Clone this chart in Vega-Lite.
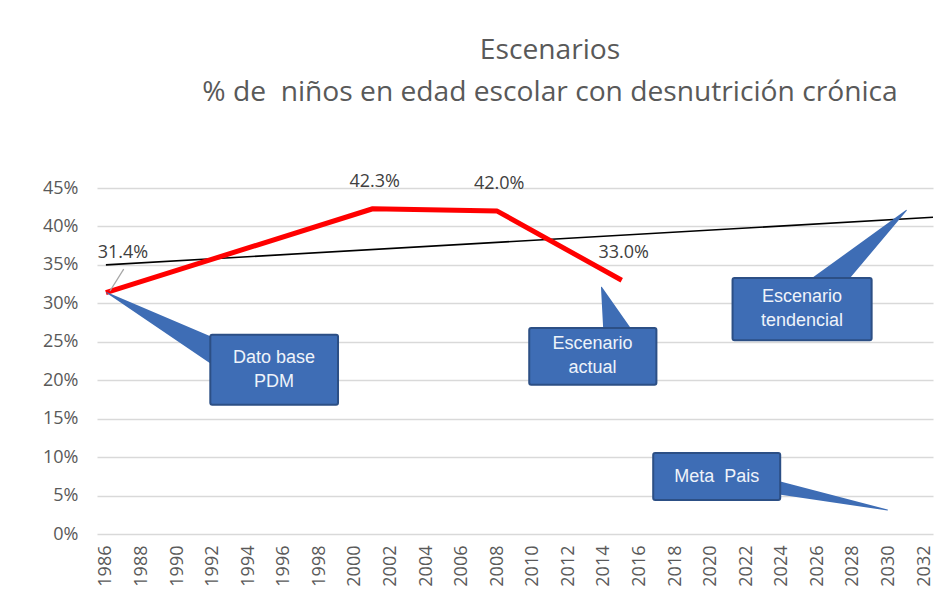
{
  "$schema": "https://vega.github.io/schema/vega-lite/v6.json",
  "width": 836,
  "height": 346,
  "autosize": {"type": "none"},
  "padding": {"left": 97, "top": 188, "right": 6, "bottom": 62},
  "background": "white",
  "config": {
    "view": {"stroke": null},
    "font": "Open Sans"
  },
  "title": {
    "text": ["Escenarios", "% de\u00a0 niños en edad escolar con desnutrición crónica"],
    "font": "Open Sans",
    "fontSize": 28.2,
    "fontWeight": "normal",
    "color": "#595959",
    "lineHeight": 42,
    "anchor": "middle",
    "dx": 35,
    "offset": 66
  },
  "datasets": {
    "scenarios": [
      {"year": 1986, "pct": 0.314},
      {"year": 2001, "pct": 0.423},
      {"year": 2008, "pct": 0.420},
      {"year": 2015, "pct": 0.330}
    ],
    "trend": [
      {"year": 1986, "pct": 0.350},
      {"year": 2032.5, "pct": 0.412}
    ],
    "callouts": [
      {"label": "Dato base\nPDM", "x0": 1991.87, "x1": 1999.05, "y0": 0.168, "y1": 0.259, "cx": 1995.45, "cy": 0.213},
      {"label": "Escenario\nactual", "x0": 2009.8, "x1": 2016.95, "y0": 0.194, "y1": 0.268, "cx": 2013.36, "cy": 0.231},
      {"label": "Escenario\ntendencial", "x0": 2021.23, "x1": 2029.05, "y0": 0.252, "y1": 0.333, "cx": 2025.14, "cy": 0.2926},
      {"label": "Meta\u00a0 Pais", "x0": 2016.77, "x1": 2023.91, "y0": 0.0442, "y1": 0.1053, "cx": 2020.34, "cy": 0.0741}
    ],
    "pointers": [
      {"callout": "Dato base PDM", "part": "tip", "year": 1986.05, "pct": 0.314},
      {"callout": "Dato base PDM", "part": "wide", "year": 1993.2, "pct": 0.2237},
      {"callout": "Escenario actual", "part": "tip", "year": 2013.86, "pct": 0.321},
      {"callout": "Escenario actual", "part": "wider", "year": 2014.98, "pct": 0.246},
      {"callout": "Escenario tendencial", "part": "tip", "year": 2031.0, "pct": 0.421},
      {"callout": "Escenario tendencial", "part": "wide", "year": 2026.31, "pct": 0.32},
      {"callout": "Meta Pais", "part": "tip", "year": 2029.94, "pct": 0.0312},
      {"callout": "Meta Pais", "part": "narrow", "year": 2023.36, "pct": 0.0624}
    ]
  },
  "layer": [
    {
      "data": {"name": "trend"},
      "mark": {"type": "line", "color": "#000000", "strokeWidth": 1.6},
      "encoding": {
        "x": {
          "field": "year", "type": "quantitative",
          "scale": {"domain": [1985.5, 2032.5], "nice": false, "zero": false},
          "axis": {
            "title": null,
            "values": [1986, 1988, 1990, 1992, 1994, 1996, 1998, 2000, 2002, 2004, 2006, 2008, 2010, 2012, 2014, 2016, 2018, 2020, 2022, 2024, 2026, 2028, 2030, 2032],
            "tickCount": 100,
            "format": "d",
            "labelAngle": -90,
            "labelFont": "Open Sans",
            "labelFontSize": 18,
            "labelColor": "#595959",
            "labelPadding": 11,
            "labelOverlap": false,
            "labelFlush": false,
            "domain": false,
            "ticks": false,
            "grid": false
          }
        },
        "y": {
          "field": "pct", "type": "quantitative",
          "scale": {"domain": [0, 0.45], "nice": false},
          "axis": {
            "title": null,
            "values": [0, 0.05, 0.1, 0.15, 0.2, 0.25, 0.3, 0.35, 0.4, 0.45],
            "tickCount": 100,
            "format": ".0%",
            "labelFont": "Open Sans",
            "labelFontSize": 18,
            "labelColor": "#595959",
            "labelPadding": 19,
            "labelOverlap": false,
            "domain": false,
            "ticks": false,
            "grid": true,
            "gridColor": "#D9D9D9",
            "gridWidth": 1.3
          }
        }
      }
    },
    {
      "data": {"name": "scenarios"},
      "mark": {"type": "line", "color": "#FF0000", "strokeWidth": 5, "strokeJoin": "round"},
      "encoding": {
        "x": {"field": "year", "type": "quantitative"},
        "y": {"field": "pct", "type": "quantitative"}
      }
    },
    {
      "data": {"name": "scenarios"},
      "transform": [{"filter": "datum.year != 1986"}],
      "mark": {"type": "text", "font": "Open Sans", "fontSize": 18, "color": "#404040", "dy": -27, "dx": 2, "baseline": "middle", "align": "center"},
      "encoding": {
        "x": {"field": "year", "type": "quantitative"},
        "y": {"field": "pct", "type": "quantitative"},
        "text": {"field": "pct", "type": "quantitative", "format": ".1%"}
      }
    },
    {
      "data": {"name": "scenarios"},
      "transform": [{"filter": "datum.year == 1986"}],
      "mark": {"type": "text", "font": "Open Sans", "fontSize": 18, "color": "#404040", "dy": -40, "dx": 17, "baseline": "middle", "align": "center"},
      "encoding": {
        "x": {"field": "year", "type": "quantitative"},
        "y": {"field": "pct", "type": "quantitative"},
        "text": {"field": "pct", "type": "quantitative", "format": ".1%"}
      }
    },
    {
      "data": {"values": [{}]},
      "mark": {"type": "rule", "color": "#A6A6A6", "strokeWidth": 1.3},
      "encoding": {
        "x": {"datum": 1986.23, "type": "quantitative"},
        "y": {"datum": 0.316, "type": "quantitative"},
        "x2": {"datum": 1987.0},
        "y2": {"datum": 0.3446}
      }
    },
    {
      "data": {"name": "pointers"},
      "mark": {"type": "trail", "color": "#3E6DB5"},
      "encoding": {
        "x": {"field": "year", "type": "quantitative"},
        "y": {"field": "pct", "type": "quantitative"},
        "detail": {"field": "callout", "type": "nominal"},
        "size": {"field": "part", "type": "nominal", "scale": {"type": "ordinal", "domain": ["tip", "narrow", "wide", "wider"], "range": [0, 14, 29, 36]}, "legend": null}
      }
    },
    {
      "data": {"name": "callouts"},
      "mark": {"type": "rect", "color": "#3E6DB5", "stroke": "#2C4F85", "strokeWidth": 2, "cornerRadius": 2},
      "encoding": {
        "x": {"field": "x0", "type": "quantitative"},
        "x2": {"field": "x1"},
        "y": {"field": "y0", "type": "quantitative"},
        "y2": {"field": "y1"}
      }
    },
    {
      "data": {"name": "callouts"},
      "transform": [{"filter": "indexof(datum.label, '\\n') >= 0"}],
      "mark": {"type": "text", "font": "Liberation Sans", "fontSize": 18, "color": "#EEF3FA", "lineBreak": "\n", "lineHeight": 24, "baseline": "middle", "align": "center", "dy": -12},
      "encoding": {
        "x": {"field": "cx", "type": "quantitative"},
        "y": {"field": "cy", "type": "quantitative"},
        "text": {"field": "label", "type": "nominal"}
      }
    },
    {
      "data": {"name": "callouts"},
      "transform": [{"filter": "indexof(datum.label, '\\n') < 0"}],
      "mark": {"type": "text", "font": "Liberation Sans", "fontSize": 18, "color": "#EEF3FA", "baseline": "middle", "align": "center"},
      "encoding": {
        "x": {"field": "cx", "type": "quantitative"},
        "y": {"field": "cy", "type": "quantitative"},
        "text": {"field": "label", "type": "nominal"}
      }
    }
  ]
}
